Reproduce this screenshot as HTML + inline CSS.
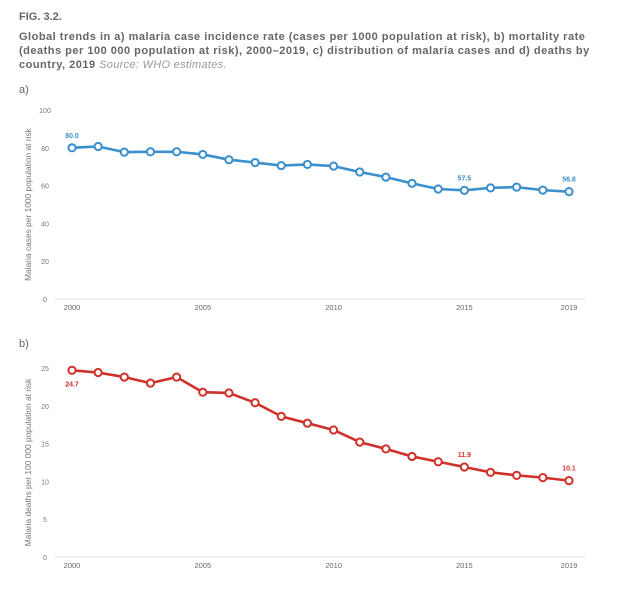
<!DOCTYPE html>
<html><head><meta charset="utf-8"><style>
body{margin:0;background:#fff;font-family:"Liberation Sans",sans-serif;}
#wrap{position:relative;width:632px;height:600px;}
.t{position:absolute;left:19px;}
</style></head><body><div id="wrap">
<div class="t" style="top:11px;font-size:11px;font-weight:bold;color:#666;">FIG. 3.2.</div>
<div class="t" style="top:30px;width:610px;white-space:nowrap;font-size:11px;letter-spacing:0.5px;font-weight:bold;color:#666;line-height:14px;">Global trends in a) malaria case incidence rate (cases per 1000 population at risk), b) mortality rate<br>(deaths per 100 000 population at risk), 2000–2019, c) distribution of malaria cases and d) deaths by<br>country, 2019 <span style="font-weight:normal;font-style:italic;color:#999;letter-spacing:0.3px;">Source: WHO estimates.</span></div>
<svg id="chart" width="632" height="600" style="position:absolute;left:0;top:0"></svg>
</div>
<script>
const years=[2000,2001,2002,2003,2004,2005,2006,2007,2008,2009,2010,2011,2012,2013,2014,2015,2016,2017,2018,2019];
const xTicks=[2000,2005,2010,2015,2019];
const incidence=[80.0,80.7,77.7,77.9,77.9,76.5,73.7,72.2,70.6,71.2,70.3,67.2,64.5,61.2,58.2,57.5,58.8,59.2,57.6,56.8];
const mortality=[24.7,24.4,23.8,23.0,23.8,21.8,21.7,20.4,18.6,17.7,16.8,15.2,14.3,13.3,12.6,11.9,11.2,10.8,10.5,10.1];
const yTicksA=[0,20,40,60,80,100];
const yTicksB=[0,5,10,15,20,25];
const labelsA=[[0,"80.0",0,-13],[15,"57.5",0,-13],[19,"56.8",0,-13]];
const labelsB=[[0,"24.7",0,13],[15,"11.9",0,-13],[19,"10.1",0,-13]];
const NS="http://www.w3.org/2000/svg";
const svg=document.getElementById('chart');
function el(tag,attrs,parent){const e=document.createElementNS(NS,tag);for(const k in attrs)e.setAttribute(k,attrs[k]);(parent||svg).appendChild(e);return e;}
const xs=y=>72+(y-2000)*(569-72)/19;
function panel(id,letter,letterY,y0,yTop,yMax,ticks,data,color,title,labels){
  const ys=v=>y0-(v/yMax)*(y0-yTop);
  const g=el('g',{});
  
  
  const L=el('text',{x:19,y:letterY,'font-size':11,fill:'#666'},g);L.textContent=letter;
  
  
  ticks.forEach(t=>{const tx=el('text',{x:45,y:ys(t)+3,'font-size':7,fill:'#777','text-anchor':'middle'},g);tx.textContent=t;
    
    });
  const ax=el('line',{x1:55,x2:585,y1:y0,y2:y0,stroke:'#ddd','stroke-width':1},g);
  
  
  xTicks.forEach(t=>{const tx=el('text',{x:xs(t),y:y0+11,'font-size':7.5,fill:'#666','text-anchor':'middle'},g);tx.textContent=t;
    
    });
  const yt=el('text',{transform:`translate(31,${(y0+yTop)/2}) rotate(-90)`,'font-size':8.4,fill:'#777','text-anchor':'middle'},g);yt.textContent=title;
  
  
  const line=el('polyline',{points:data.map((v,i)=>xs(years[i])+','+ys(v)).join(' '),fill:'none',stroke:color,'stroke-width':2.6,'stroke-linejoin':'round'},g);
  
  
  data.forEach((v,i)=>{const c=el('circle',{cx:xs(years[i]),cy:ys(v),r:3.6,fill:'#fff',stroke:color,'stroke-width':2},g);
    
    });
  labels.forEach(([i,s,dx,dy])=>{const tx=el('text',{x:xs(years[i])+dx,y:ys(data[i])+dy+3,'font-size':7,'font-weight':'bold',fill:color,'text-anchor':'middle'},g);tx.textContent=s;
    
    });
}
panel('panel-a-incidence','a)',93,299,110,100,yTicksA,incidence,'#3a8fcc','Malaria cases per 1000 population at risk',labelsA);
panel('panel-b-mortality','b)',347,557,368,25,yTicksB,mortality,'#d0322b','Malaria deaths per 100 000 population at risk',labelsB);
</script>
</body></html>
